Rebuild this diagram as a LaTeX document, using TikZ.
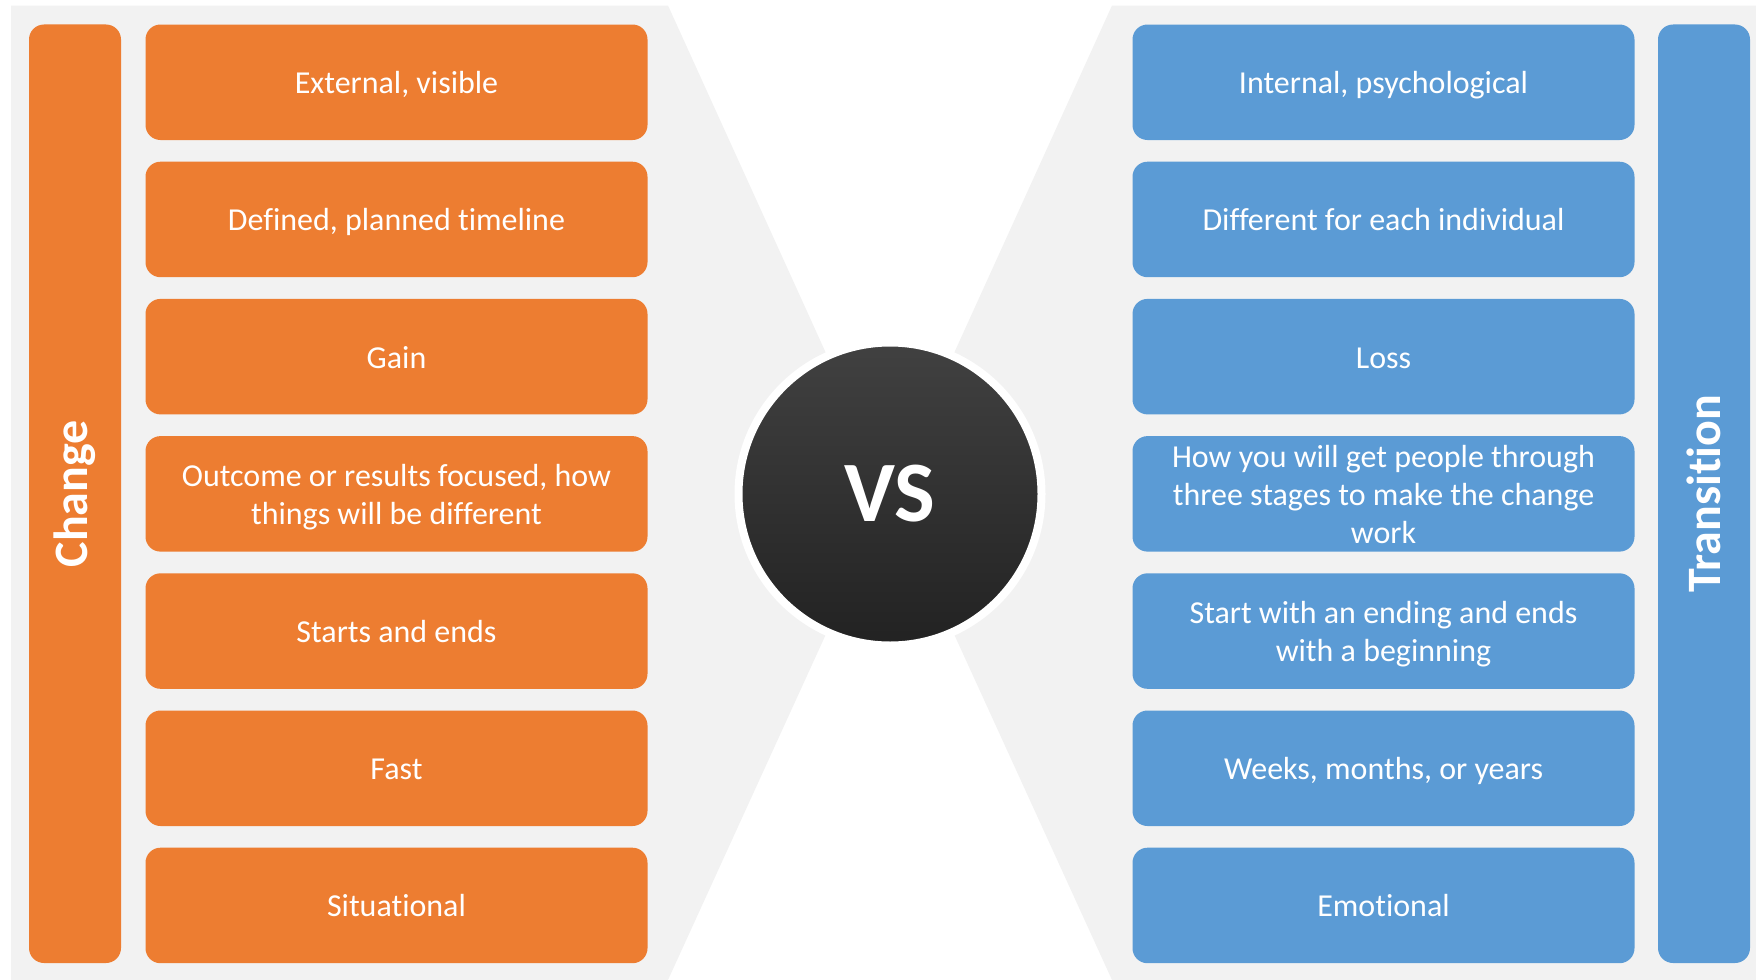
\documentclass[tikz,border=0pt]{standalone}
\usepackage{fontspec}
\setmainfont{Carlito}[Ligatures=NoCommon]
\usetikzlibrary{positioning}
\definecolor{mOrange}{HTML}{ED7D31}
\definecolor{mBlue}{HTML}{5B9BD5}
\definecolor{mGray}{HTML}{F2F2F2}
\definecolor{mDarkTop}{HTML}{414141}
\definecolor{mDarkBot}{HTML}{222222}

\begin{document}
\begin{tikzpicture}[
    box/.style={rounded corners=0.3cm, minimum width=10.04cm, minimum height=2.31cm,
                text width=9.9cm, inner sep=0pt, outer sep=0pt, align=flush center, text=white,
                font=\fontsize{18.2}{21.6}\selectfont,
                execute at begin node={\rule{0pt}{0.97em}},
                execute at end node={\rule[-0.25em]{0pt}{0.25em}}},
    bar/.style={rounded corners=0.3cm, rotate=90, minimum width=18.77cm, minimum height=1.84cm,
                inner sep=0pt, text=white, font=\fontsize{27.3}{30}\selectfont\bfseries},
    vsdisc/.style={circle, minimum size=6.06cm, draw=white, line width=0.16cm,
                top color=mDarkTop, bottom color=mDarkBot, text=white,
                font=\fontsize{49}{55}\selectfont\bfseries}
]
  \useasboundingbox (0,0) rectangle (35.12,-19.6);
  % grey panels pointing at the middle
  \coordinate (mid) at (17.8,-9.88);
  \fill[mGray] (0.22,-0.11) -- (13.36,-0.11) -- (mid) -- (13.36,-19.6) -- (0.22,-19.6) -- cycle;
  \fill[mGray] (35.12,-0.11) -- (22.24,-0.11) -- (mid) -- (22.24,-19.6) -- (35.12,-19.6) -- cycle;

  % change side
  \node[bar, fill=mOrange] (change) at (1.5,-9.875) {Change};
  \node[box, fill=mOrange] (ext) at (7.93,-1.645) {External, visible};
  \node[box, fill=mOrange, below=0.434cm of ext] (plan) {Defined, planned timeline};
  \node[box, fill=mOrange, below=0.434cm of plan] (gain) {Gain};
  \node[box, fill=mOrange, below=0.434cm of gain] (outc) {Outcome or results focused, how\\things will be different};
  \node[box, fill=mOrange, below=0.434cm of outc] (ends) {Starts and ends};
  \node[box, fill=mOrange, below=0.434cm of ends] (fast) {Fast};
  \node[box, fill=mOrange, below=0.434cm of fast] (sit) {Situational};

  % transition side
  \node[bar, fill=mBlue] (transition) at (34.08,-9.875) {Transition};
  \node[box, fill=mBlue] (intl) at (27.67,-1.645) {Internal, psychological};
  \node[box, fill=mBlue, below=0.434cm of intl] (diff) {Different for each individual};
  \node[box, fill=mBlue, below=0.434cm of diff] (loss) {Loss};
  \node[box, fill=mBlue, below=0.434cm of loss] (how) {How you will get people through\\three stages to make the change\\work};
  \node[box, fill=mBlue, below=0.434cm of how] (start) {Start with an ending and ends\\with a beginning};
  \node[box, fill=mBlue, below=0.434cm of start] (weeks) {Weeks, months, or years};
  \node[box, fill=mBlue, below=0.434cm of weeks] (emo) {Emotional};

  \node[vsdisc] (vs) at (mid) {VS};
\end{tikzpicture}
\end{document}
